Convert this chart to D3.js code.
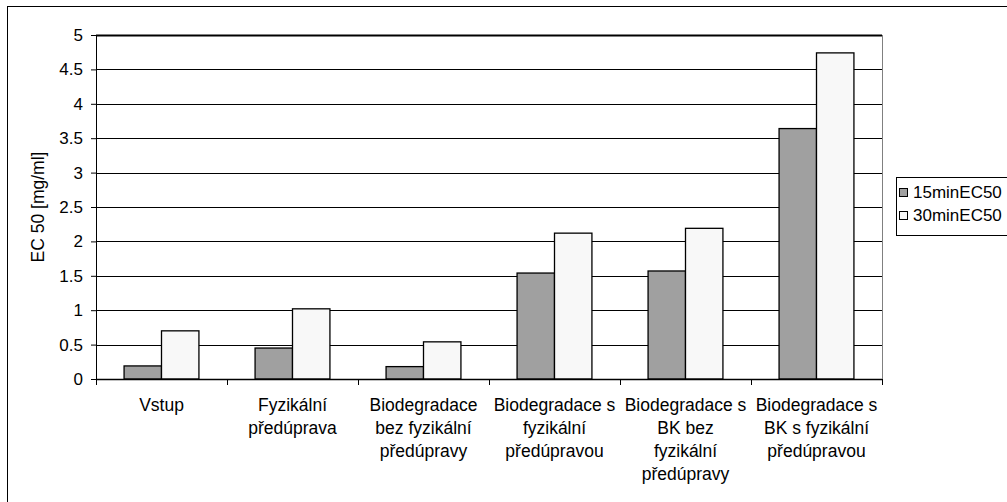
<!DOCTYPE html>
<html>
<head>
<meta charset="utf-8">
<script src="https://cdn.jsdelivr.net/npm/d3@7"></script>
<style>
  body { margin: 0; background: #fff; }
  svg { display: block; font-family: "Liberation Sans", Arial, sans-serif; }
</style>
</head>
<body>
<div id="chart"></div>
<script>
// data
const CATEGORIES = [
  ["Vstup"],
  ["Fyzikální", "předúprava"],
  ["Biodegradace", "bez fyzikální", "předúpravy"],
  ["Biodegradace s", "fyzikální", "předúpravou"],
  ["Biodegradace s", "BK bez", "fyzikální", "předúpravy"],
  ["Biodegradace s", "BK s fyzikální", "předúpravou"]
];
const SERIES = ["15minEC50", "30minEC50"];
const VALUES_15 = [0.19, 0.45, 0.18, 1.54, 1.57, 3.64];
const VALUES_30 = [0.70, 1.02, 0.54, 2.12, 2.19, 4.74];
const Y_TICKS = [0, 0.5, 1, 1.5, 2, 2.5, 3, 3.5, 4, 4.5, 5];
const COLORS = ["#a0a0a0", "#f8f8f8"];

// frame
const FRAME_WIDTH = 1007;
const FRAME_HEIGHT = 502;
const MARGINS = {left: 96, right: 125, top: 35, bottom: 123};
const VIS_WIDTH = FRAME_WIDTH - MARGINS.left - MARGINS.right;
const VIS_HEIGHT = FRAME_HEIGHT - MARGINS.top - MARGINS.bottom;

const FRAME = d3.select("#chart")
                .append("svg")
                  .attr("width", FRAME_WIDTH)
                  .attr("height", FRAME_HEIGHT);

// outer chart border (runs past right and bottom edges)
FRAME.append("rect")
      .attr("x", 7.5).attr("y", 6.5)
      .attr("width", 1100).attr("height", 600)
      .attr("fill", "none")
      .attr("stroke", "#000")
      .attr("stroke-width", 1);

const G = FRAME.append("g")
                .attr("transform", "translate(" + MARGINS.left + "," + MARGINS.top + ")");

// scales
const X_SCALE = d3.scaleBand()
                  .domain(d3.range(CATEGORIES.length))
                  .range([0, VIS_WIDTH]);
const BAR_W = X_SCALE.bandwidth() / 3.5;   // gap width 150%
const X_INNER = d3.scaleBand()
                  .domain(SERIES)
                  .range([BAR_W * 0.75, BAR_W * 2.75]);
const Y_SCALE = d3.scaleLinear()
                  .domain([0, 5])
                  .range([VIS_HEIGHT, 0]);

// gridlines
G.selectAll(".grid")
  .data(Y_TICKS.filter(d => d > 0))
  .enter()
  .append("line")
    .attr("x1", 0).attr("x2", VIS_WIDTH)
    .attr("y1", d => Math.round(Y_SCALE(d)) + 0.5)
    .attr("y2", d => Math.round(Y_SCALE(d)) + 0.5)
    .attr("stroke", "#000")
    .attr("stroke-width", d => d === 5 ? 2 : 1);

// right edge of plot area
G.append("line")
  .attr("x1", VIS_WIDTH + 0.5).attr("x2", VIS_WIDTH + 0.5)
  .attr("y1", Y_SCALE(5)).attr("y2", VIS_HEIGHT)
  .attr("stroke", "#808080");

// bars
const ROWS = CATEGORIES.map((c, i) => ({i: i, vals: [VALUES_15[i], VALUES_30[i]]}));
G.selectAll(".group")
  .data(ROWS)
  .enter()
  .append("g")
    .attr("transform", d => "translate(" + X_SCALE(d.i) + ",0)")
  .selectAll("rect")
  .data(d => d.vals.map((v, k) => ({s: SERIES[k], v: v, k: k})))
  .enter()
  .append("rect")
    .attr("x", d => X_INNER(d.s))
    .attr("y", d => Y_SCALE(d.v))
    .attr("width", X_INNER.bandwidth())
    .attr("height", d => VIS_HEIGHT - Y_SCALE(d.v))
    .attr("fill", d => COLORS[d.k])
    .attr("stroke", "#000")
    .attr("stroke-width", 1.3);

// y-axis
const Y_AXIS = G.append("g")
                .call(d3.axisLeft(Y_SCALE).tickValues(Y_TICKS).tickSize(5).tickPadding(8).tickFormat(d3.format("")));
Y_AXIS.attr("font-family", null).attr("font-size", null);
Y_AXIS.select(".domain").attr("stroke", "#000");
Y_AXIS.selectAll("text").attr("font-size", "17px").attr("fill", "#000");

// x-axis
const X_TICKS = d3.range(CATEGORIES.length + 1).map(i => i * X_SCALE.step());
const X_AXIS = G.append("g").attr("transform", "translate(0," + VIS_HEIGHT + ")");
X_AXIS.append("line")
      .attr("x1", 0).attr("x2", VIS_WIDTH)
      .attr("y1", 0.5).attr("y2", 0.5)
      .attr("stroke", "#000").attr("stroke-width", 1.5);
X_AXIS.selectAll(".xtick")
      .data(X_TICKS)
      .enter()
      .append("line")
        .attr("x1", d => Math.round(d) + 0.5).attr("x2", d => Math.round(d) + 0.5)
        .attr("y1", 0).attr("y2", 6)
        .attr("stroke", "#000");

X_AXIS.selectAll(".xlabel")
      .data(CATEGORIES)
      .enter()
      .append("text")
        .attr("text-anchor", "middle")
        .attr("font-size", "17.5px")
        .attr("fill", "#000")
        .attr("transform", (d, i) => "translate(" + (X_SCALE(i) + X_SCALE.bandwidth() / 2) + ",32)")
      .selectAll("tspan")
      .data(d => d)
      .enter()
      .append("tspan")
        .attr("x", 0)
        .attr("y", (d, j) => j * 23)
        .text(d => d);

// y-axis title
FRAME.append("text")
      .attr("transform", "translate(44," + (MARGINS.top + VIS_HEIGHT / 2) + ") rotate(-90)")
      .attr("text-anchor", "middle")
      .attr("font-size", "17.5px")
      .attr("fill", "#000")
      .text("EC 50 [mg/ml]");

// legend
const LEGEND = FRAME.append("g").attr("transform", "translate(896,177)");
LEGEND.append("rect")
      .attr("x", 0.5).attr("y", 0.5)
      .attr("width", 200).attr("height", 58)
      .attr("fill", "#fff")
      .attr("stroke", "#000");
LEGEND.selectAll(".item")
      .data(SERIES)
      .enter()
      .append("g")
        .attr("transform", (d, i) => "translate(0," + (15 + i * 23) + ")")
        .each(function(d, i) {
          const g = d3.select(this);
          g.append("rect")
            .attr("x", 3.5).attr("y", -3.5)
            .attr("width", 8).attr("height", 8)
            .attr("fill", COLORS[i])
            .attr("stroke", "#000");
          g.append("text")
            .attr("x", 17).attr("y", 6)
            .attr("font-size", "17px")
            .attr("fill", "#000")
            .text(d);
        });
</script>
</body>
</html>
